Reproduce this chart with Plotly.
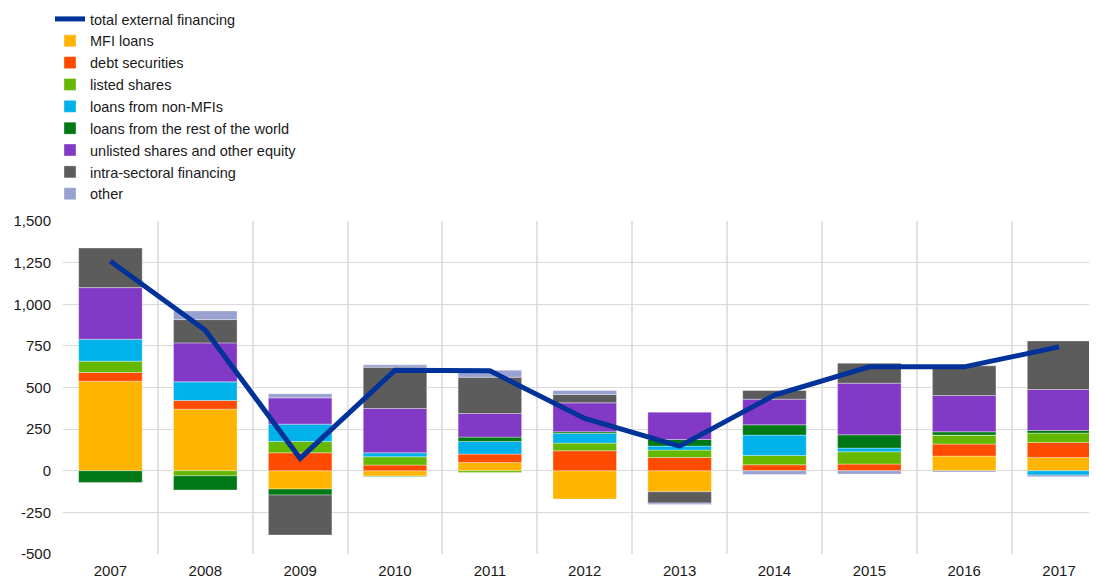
import plotly.graph_objects as go

years = ["2007", "2008", "2009", "2010", "2011", "2012", "2013", "2014", "2015", "2016", "2017"]

total_external_financing = [1258, 844, 74, 604, 600, 314, 148, 454, 624, 624, 744]
mfi_loans = [538, 370, -110, -32, 50, -170, -126, 0, 0, 88, 80]
debt_securities = [52, 52, 108, 34, 50, 120, 80, 36, 40, 72, 90]
listed_shares = [68, -30, 68, 50, -10, 46, 44, 56, 74, 54, 56]
loans_non_mfis = [132, 112, 104, 24, 76, 58, 24, 122, 22, 0, -26]
loans_rest_of_world = [-72, -86, -36, -3, 26, 10, 40, 62, 80, 20, 16]
unlisted_shares = [310, 234, 158, 266, 142, 174, 164, 154, 310, 218, 246]
intra_sectoral = [238, 140, -240, 248, 218, 50, -68, 52, 120, 178, 292]
other = [-2, 52, 24, 14, 42, 24, -8, -22, -20, -8, -10]

y_tickvals = [-500, -250, 0, 250, 500, 750, 1000, 1250, 1500]
y_ticktext = ["-500", "-250", "0", "250", "500", "750", "1,000", "1,250", "1,500"]

series = [
    ("MFI loans", mfi_loans, "#FFB400"),
    ("debt securities", debt_securities, "#FF4B00"),
    ("listed shares", listed_shares, "#65B800"),
    ("loans from non-MFIs", loans_non_mfis, "#00B1EA"),
    ("loans from the rest of the world", loans_rest_of_world, "#007816"),
    ("unlisted shares and other equity", unlisted_shares, "#8139C6"),
    ("intra-sectoral financing", intra_sectoral, "#5C5C5C"),
    ("other", other, "#98A1D0"),
]

FONT = "Liberation Sans, Arial, sans-serif"
TXT = "#1a1a1a"

fig = go.Figure()
fig.add_trace(go.Scatter(
    x=years, y=total_external_financing, name="total external financing",
    mode="lines", line=dict(color="#003299", width=5),
))
for name, vals, col in series:
    fig.add_trace(go.Bar(
        x=years, y=vals, name=name, width=0.67,
        marker=dict(color=col, line=dict(color="rgba(255,255,255,0.35)", width=1)),
    ))

fig.update_layout(
    width=1089, height=572,
    barmode="relative",
    plot_bgcolor="white", paper_bgcolor="white",
    margin=dict(l=55, r=0, t=213, b=26, autoexpand=False),
    font=dict(family=FONT, size=15, color=TXT),
    showlegend=True,
    legend=dict(
        traceorder="normal",
        xref="container",
        x=42 / 1089, y=1 + 218 / 333, xanchor="left", yanchor="top",
        font=dict(family=FONT, size=14.5, color=TXT),
        bgcolor="rgba(0,0,0,0)",
    ),
    xaxis=dict(
        type="category", range=[-0.5, 10.4],
        tickson="boundaries", showgrid=True, gridcolor="#e2e2e2", gridwidth=2,
        ticks="", showline=False, zeroline=False, automargin=False,
        ticklabelstandoff=6, tickfont=dict(size=15),
    ),
    yaxis=dict(
        range=[-500, 1500], tickvals=y_tickvals, ticktext=y_ticktext,
        showgrid=True, gridcolor="#dadada", gridwidth=1,
        zeroline=False, showline=False, ticks="", automargin=False,
        ticklabelstandoff=11, tickfont=dict(size=15),
    ),
)

fig.write_html("out.html")
